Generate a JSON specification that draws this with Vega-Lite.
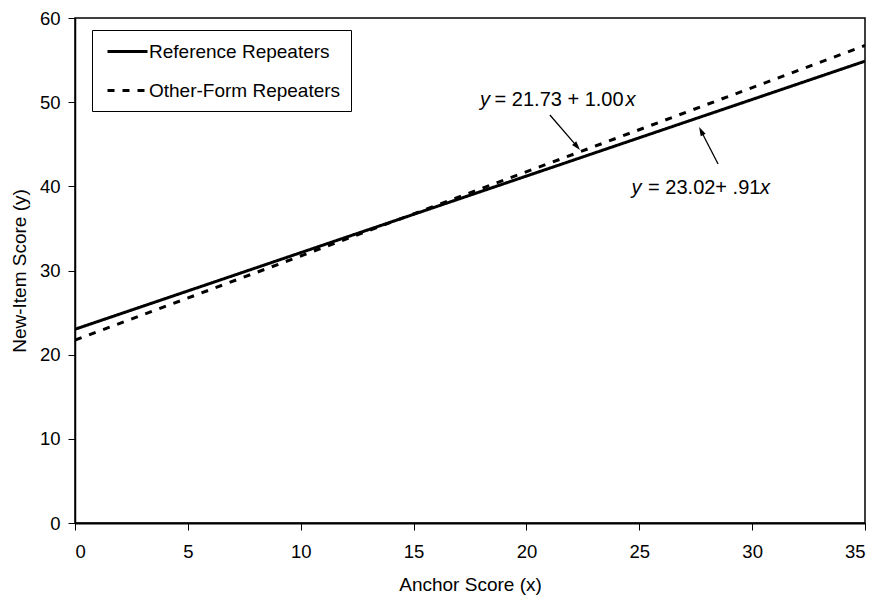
{
  "$schema": "https://vega.github.io/schema/vega-lite/v6.json",
  "width": 790,
  "height": 505,
  "autosize": "none",
  "padding": {"left": 75, "top": 18, "right": 16, "bottom": 76},
  "background": "white",
  "config": {
    "font": "Liberation Sans",
    "view": {"stroke": "black", "strokeWidth": 1.5},
    "axis": {
      "grid": false,
      "domainColor": "black",
      "tickColor": "black",
      "labelColor": "black",
      "titleColor": "black",
      "labelFont": "Liberation Sans",
      "titleFont": "Liberation Sans",
      "labelFontSize": 18.5,
      "titleFontSize": 19,
      "titleFontWeight": "normal",
      "tickSize": 7,
      "tickWidth": 1,
      "domainWidth": 1.5
    }
  },
  "datasets": {
    "lines": [
      {"series": "Reference Repeaters", "anchor": 0, "newitem": 23.02},
      {"series": "Reference Repeaters", "anchor": 35, "newitem": 54.87},
      {"series": "Other-Form Repeaters", "anchor": 0, "newitem": 21.73},
      {"series": "Other-Form Repeaters", "anchor": 35, "newitem": 56.73}
    ],
    "labels": [
      {"part": "var", "text": "y", "x": 17.94, "y": 49.54},
      {"part": "eq", "text": "= 21.73 + 1.00", "x": 18.59, "y": 49.54},
      {"part": "var", "text": "x", "x": 24.39, "y": 49.54},
      {"part": "var", "text": "y", "x": 24.66, "y": 39.09},
      {"part": "eq", "text": "= 23.02+ .91", "x": 25.39, "y": 39.09},
      {"part": "var", "text": "x", "x": 30.35, "y": 39.09}
    ],
    "arrows": [
      {"arrow": "a1", "x": 21.04, "y": 48.47, "x2": 22.23, "y2": 44.77},
      {"arrow": "a2", "x": 28.49, "y": 42.65, "x2": 27.75, "y2": 46.52}
    ]
  },
  "layer": [
    {
      "data": {"name": "lines"},
      "mark": {"type": "line", "color": "black", "strokeWidth": 3, "clip": true},
      "encoding": {
        "x": {
          "field": "anchor",
          "type": "quantitative",
          "scale": {"domain": [0, 35], "nice": false},
          "axis": {
            "values": [0, 5, 10, 15, 20, 25, 30, 35],
            "title": "Anchor Score (x)",
            "titleX": 395,
            "titleY": 67,
            "titleBaseline": "alphabetic",
            "labelPadding": 12,
            "domainWidth": 2
          }
        },
        "y": {
          "field": "newitem",
          "type": "quantitative",
          "scale": {"domain": [0, 60], "nice": false},
          "axis": {
            "values": [0, 10, 20, 30, 40, 50, 60],
            "title": "New-Item Score (y)",
            "titleX": -50,
            "titleY": 252.5,
            "titleAngle": -90,
            "titleBaseline": "alphabetic",
            "labelPadding": 8
          }
        },
        "strokeDash": {
          "field": "series",
          "type": "nominal",
          "scale": {
            "domain": ["Reference Repeaters", "Other-Form Repeaters"],
            "range": [[1, 0], [7, 8]]
          },
          "legend": {
            "title": null,
            "orient": "none",
            "legendX": 17,
            "legendY": 12,
            "strokeColor": "black",
            "fillColor": "white",
            "padding": 10,
            "labelFont": "Liberation Sans",
            "labelFontSize": 19,
            "labelColor": "black",
            "labelLimit": 400,
            "symbolType": "M-2,0H2",
            "symbolSize": 400,
            "symbolStrokeWidth": 3,
            "symbolStrokeColor": "black",
            "symbolFillColor": "transparent",
            "symbolOffset": 14,
            "labelOffset": 10,
            "rowPadding": 17
          }
        }
      }
    },
    {
      "data": {"name": "arrows"},
      "mark": {"type": "rule", "color": "black", "strokeWidth": 1.3},
      "encoding": {
        "x": {"field": "x", "type": "quantitative"},
        "y": {"field": "y", "type": "quantitative"},
        "x2": {"field": "x2"},
        "y2": {"field": "y2"}
      }
    },
    {
      "data": {"name": "arrows"},
      "transform": [{"filter": "datum.arrow === 'a1'"}],
      "mark": {"type": "point", "shape": "M0,-1L0.55,0.8L-0.55,0.8Z", "size": 100, "angle": 139.4, "filled": true, "color": "black", "opacity": 1},
      "encoding": {
        "x": {"field": "x2", "type": "quantitative"},
        "y": {"field": "y2", "type": "quantitative"}
      }
    },
    {
      "data": {"name": "arrows"},
      "transform": [{"filter": "datum.arrow === 'a2'"}],
      "mark": {"type": "point", "shape": "M0,-1L0.55,0.8L-0.55,0.8Z", "size": 100, "angle": 332.8, "filled": true, "color": "black", "opacity": 1},
      "encoding": {
        "x": {"field": "x2", "type": "quantitative"},
        "y": {"field": "y2", "type": "quantitative"}
      }
    },
    {
      "data": {"name": "labels"},
      "transform": [{"filter": "datum.part === 'eq'"}],
      "mark": {"type": "text", "align": "left", "baseline": "alphabetic", "fontSize": 20, "font": "Liberation Sans", "color": "black"},
      "encoding": {
        "x": {"field": "x", "type": "quantitative"},
        "y": {"field": "y", "type": "quantitative"},
        "text": {"field": "text"}
      }
    },
    {
      "data": {"name": "labels"},
      "transform": [{"filter": "datum.part === 'var'"}],
      "mark": {"type": "text", "align": "left", "baseline": "alphabetic", "fontSize": 20, "font": "Liberation Sans", "fontStyle": "italic", "color": "black"},
      "encoding": {
        "x": {"field": "x", "type": "quantitative"},
        "y": {"field": "y", "type": "quantitative"},
        "text": {"field": "text"}
      }
    }
  ]
}
